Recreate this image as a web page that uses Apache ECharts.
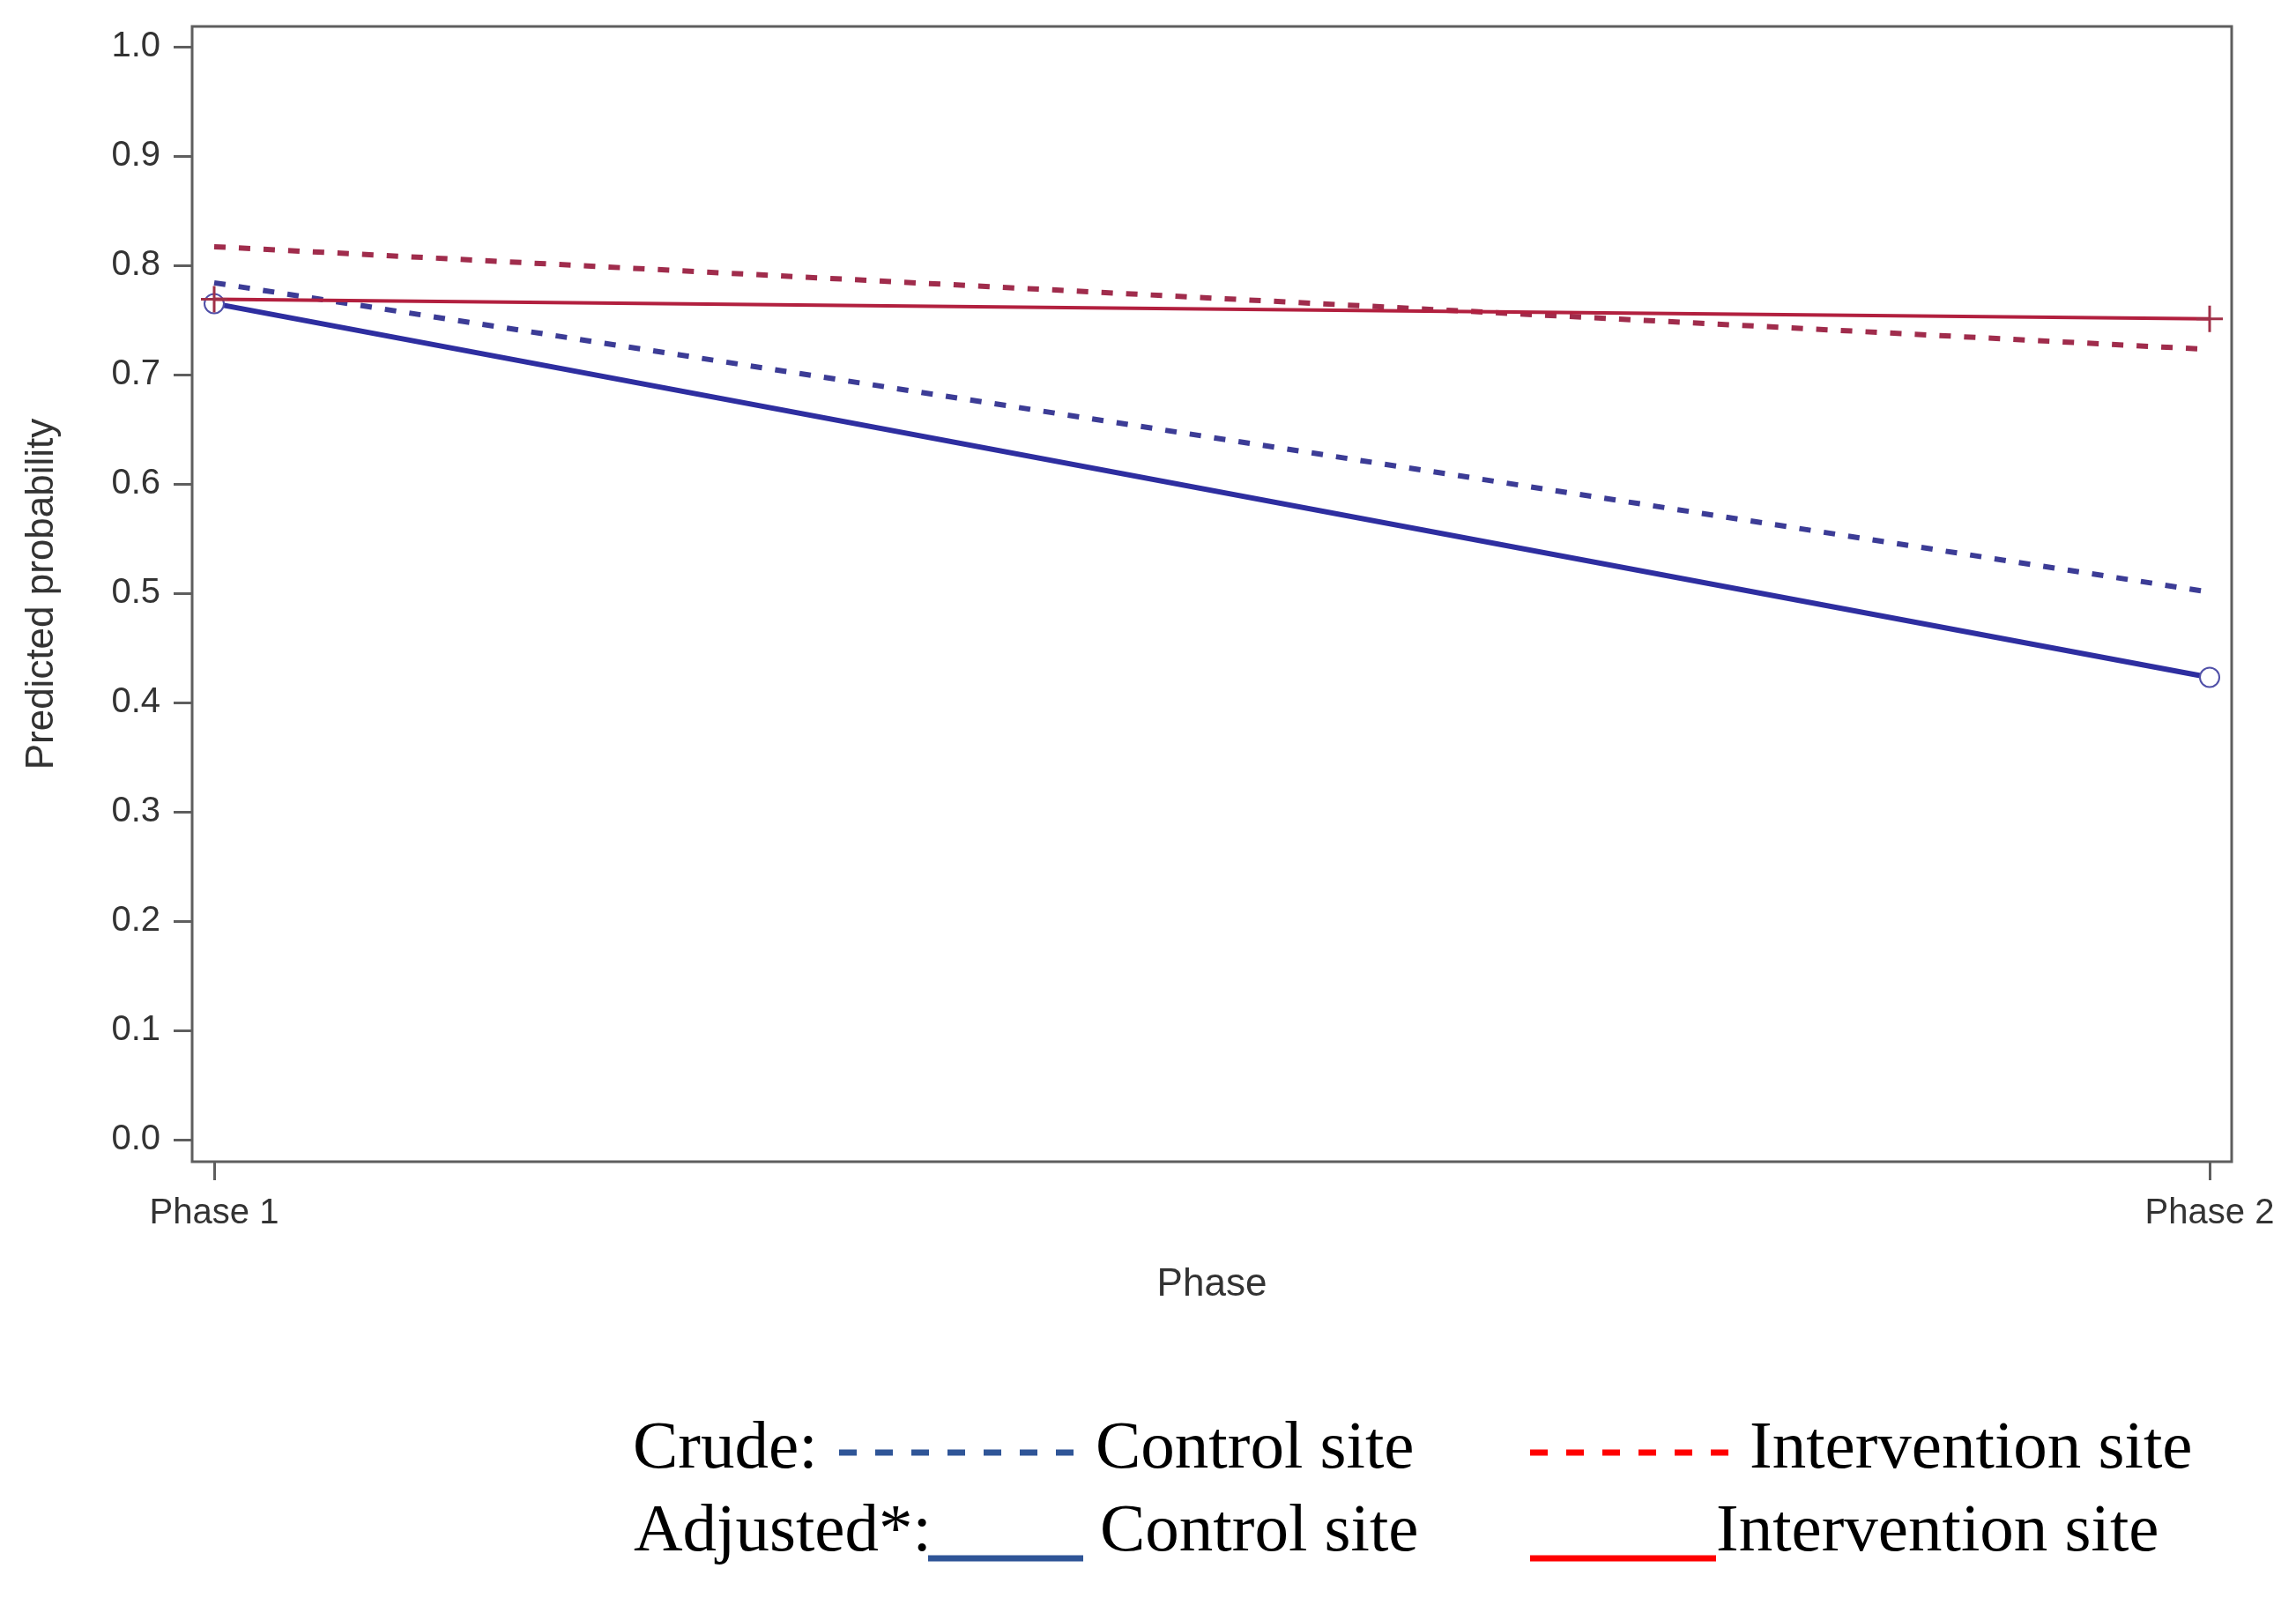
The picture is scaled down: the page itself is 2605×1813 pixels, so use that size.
<!DOCTYPE html>
<html>
<head>
<meta charset="utf-8">
<script src="https://cdn.jsdelivr.net/npm/echarts@6/dist/echarts.min.js"></script>
<style>
html,body{margin:0;padding:0;background:#fff;}
#chart{width:2605px;height:1813px;}
</style>
</head>
<body>
<div id="chart"></div>
<script>
// ---- data ----
var phases = ['Phase 1', 'Phase 2'];
var crudeControl = [0.784, 0.501];
var crudeIntervention = [0.817, 0.723];
var adjControl = [0.765, 0.423];
var adjIntervention = [0.769, 0.751];
var yTicks = [0.0, 0.1, 0.2, 0.3, 0.4, 0.5, 0.6, 0.7, 0.8, 0.9, 1.0];
var xTicks = [1, 2];

function pts(arr) { return arr.map(function (v, i) { return [i + 1, v]; }); }

var plusPath = 'path://M-1,-10 L1,-10 L1,-1 L10,-1 L10,1 L1,1 L1,10 L-1,10 L-1,1 L-10,1 L-10,-1 L-1,-1 Z';

var chart = echarts.init(document.getElementById('chart'));
var axisFont = 'Liberation Sans, Arial, sans-serif';
var serif = 'Liberation Serif, Times New Roman, serif';

chart.setOption({
  backgroundColor: '#ffffff',
  animation: false,
  grid: { left: 218, right: 73, top: 30, bottom: 495, show: true, borderColor: '#5e5e5e', borderWidth: 3, backgroundColor: '#ffffff' },
  xAxis: {
    type: 'value',
    min: 1 - 25 / 2264,
    max: 2 + 25 / 2264,
    splitLine: { show: false },
    axisLine: { show: false, onZero: false },
    axisTick: { show: true, customValues: xTicks, length: 21, lineStyle: { color: '#5e5e5e', width: 3 } },
    axisLabel: { customValues: xTicks, margin: 39, fontSize: 40, color: '#333', fontFamily: axisFont,
      formatter: function (v) { return phases[Math.round(v) - 1]; } },
    name: 'Phase', nameLocation: 'middle', nameGap: 118,
    nameTextStyle: { fontSize: 44, color: '#333', fontFamily: axisFont }
  },
  yAxis: {
    type: 'value',
    min: -25 / 1240,
    max: 1 + 23 / 1240,
    splitLine: { show: false },
    axisLine: { show: false, onZero: false },
    axisTick: { show: true, customValues: yTicks, length: 21, lineStyle: { color: '#5e5e5e', width: 3 } },
    axisLabel: { customValues: yTicks, margin: 36, fontSize: 40, color: '#333', fontFamily: axisFont,
      formatter: function (v) { return v.toFixed(1); } },
    name: 'Predicted probability', nameLocation: 'middle', nameRotate: 90, nameGap: 148,
    nameTextStyle: { fontSize: 44, color: '#333', fontFamily: axisFont }
  },
  series: [
    { name: 'Crude Control', type: 'line', data: pts(crudeControl), showSymbol: false, symbol: 'none',
      lineStyle: { color: '#3c3c96', width: 6, type: [13, 15], cap: 'butt' }, z: 2 },
    { name: 'Crude Intervention', type: 'line', data: pts(crudeIntervention), showSymbol: false, symbol: 'none',
      lineStyle: { color: '#a02c4c', width: 6, type: [13, 15], cap: 'butt' }, z: 2 },
    { name: 'Adjusted Control', type: 'line', data: pts(adjControl), symbol: 'emptyCircle', symbolSize: 22,
      lineStyle: { color: '#2e2ea0', width: 6 }, itemStyle: { color: '#5050a8', borderColor: '#5050a8', borderWidth: 3 }, z: 3 },
    { name: 'Adjusted Intervention', type: 'line', data: pts(adjIntervention), symbol: plusPath, symbolSize: 30,
      lineStyle: { color: '#b2203f', width: 4 }, itemStyle: { color: '#a03048' }, z: 4 }
  ],
  graphic: [
    { type: 'text', left: 718, top: 1606, style: { text: 'Crude:', font: '77px ' + serif, fill: '#000' } },
    { type: 'line', shape: { x1: 952, y1: 1648, x2: 1224, y2: 1648 }, style: { stroke: '#2f5597', lineWidth: 7, lineDash: [20, 21] } },
    { type: 'text', left: 1243, top: 1606, style: { text: 'Control site', font: '77px ' + serif, fill: '#000' } },
    { type: 'line', shape: { x1: 1736, y1: 1648, x2: 1965, y2: 1648 }, style: { stroke: '#ff0000', lineWidth: 7, lineDash: [20, 21] } },
    { type: 'text', left: 1985, top: 1606, style: { text: 'Intervention site', font: '77px ' + serif, fill: '#000' } },
    { type: 'text', left: 719, top: 1700, style: { text: 'Adjusted*:', font: '77px ' + serif, fill: '#000' } },
    { type: 'line', shape: { x1: 1053, y1: 1768, x2: 1229, y2: 1768 }, style: { stroke: '#2f5597', lineWidth: 7 } },
    { type: 'text', left: 1248, top: 1700, style: { text: 'Control site', font: '77px ' + serif, fill: '#000' } },
    { type: 'line', shape: { x1: 1736, y1: 1768, x2: 1947, y2: 1768 }, style: { stroke: '#ff0000', lineWidth: 7 } },
    { type: 'text', left: 1947, top: 1700, style: { text: 'Intervention site', font: '77px ' + serif, fill: '#000' } }
  ]
});
</script>
</body>
</html>
